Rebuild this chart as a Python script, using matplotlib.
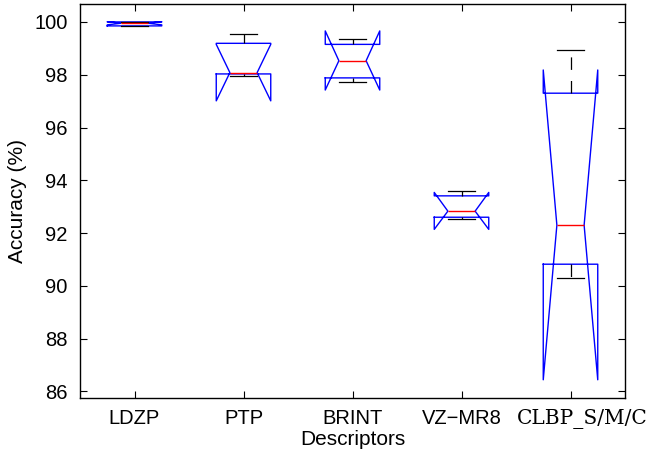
import matplotlib
matplotlib.use("Agg")
import matplotlib.pyplot as plt
import matplotlib.transforms as mtransforms

categories = ["LDZP", "PTP", "BRINT", "VZ\u2212MR8", "CLBP_S/M/C"]
medians = [99.95, 98.08, 98.53, 92.83, 92.30]
q1s = [99.85, 98.03, 97.88, 92.60, 90.82]
q3s = [100.00, 99.19, 99.15, 93.41, 97.30]
whis_lo = [99.85, 97.95, 97.72, 92.54, 90.30]
whis_hi = [100.00, 99.56, 99.37, 93.60, 98.94]
notch_lo = [99.89, 97.01, 97.42, 92.14, 86.44]
notch_hi = [100.01, 99.15, 99.66, 93.54, 98.18]
yticks = [86, 88, 90, 92, 94, 96, 98, 100]

plt.rcParams['lines.scale_dashes'] = False
plt.rcParams['font.family'] = ['Liberation Sans', 'DejaVu Sans']

fig = plt.figure(figsize=(6.49, 4.49), dpi=100)
ax = fig.add_axes([80/649, 1-398/449, 545/649, 394/449])

stats = []
for i, c in enumerate(categories):
    stats.append(dict(med=medians[i], q1=q1s[i], q3=q3s[i],
                      whislo=whis_lo[i], whishi=whis_hi[i],
                      cilo=notch_lo[i], cihi=notch_hi[i], fliers=[], label=c))

ax.bxp(stats, positions=range(1, 6), widths=0.5, capwidths=0.25,
       shownotches=True, showfliers=False,
       boxprops=dict(color='#0000ff', linewidth=1.0),
       medianprops=dict(color='#ff0000', linewidth=1.0),
       whiskerprops=dict(color='black', linewidth=0.9, linestyle=(0, (9, 8))),
       capprops=dict(color='black', linewidth=0.9))

ax.set_xlim(0.5, 5.5)
ax.set_ylim(85.75, 100.68)
ax.set_yticks(yticks)
ax.set_yticklabels([str(t) for t in yticks], fontsize=14.5)
ax.set_xticks(range(1, 6))
ax.set_xticklabels(categories, fontsize=14.5)
ax.tick_params(direction='in', top=True, right=True, length=5, width=0.8, pad=8)
ax.tick_params(axis='y', pad=9)
for s in ax.spines.values():
    s.set_linewidth(1.0)

last = ax.get_xticklabels()[-1]
last.set_family(['DejaVu Serif'])
last.set_fontsize(14.5)
last.set_transform(last.get_transform() + mtransforms.ScaledTranslation(12/100, 0, fig.dpi_scale_trans))

ax.set_xlabel("Descriptors", fontsize=15, labelpad=0.5)
ax.set_ylabel("Accuracy (%)", fontsize=15, labelpad=5)

fig.savefig("out.png", dpi=100)
